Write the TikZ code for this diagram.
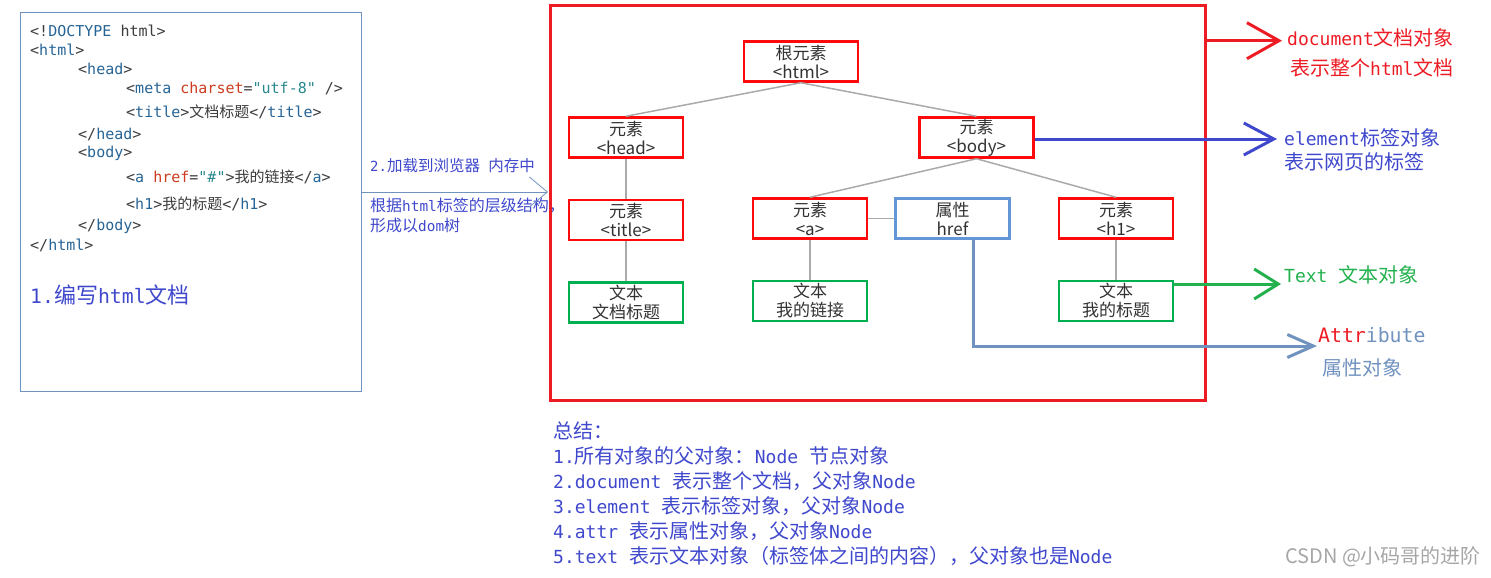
\documentclass[tikz,border=0pt]{standalone}
\usepackage{fontspec}
\setmainfont{Noto Sans CJK SC}
\setmonofont{DejaVu Sans Mono}
\newfontfamily\latinmono[Scale=0.9]{DejaVu Sans Mono}
\usetikzlibrary{positioning}
\usetikzlibrary{arrows.meta}
\definecolor{lred}{RGB}{237,28,36}
\definecolor{lblue}{RGB}{63,72,204}
\definecolor{lgreen}{RGB}{34,177,76}
\definecolor{lgrey}{RGB}{112,146,190}
\definecolor{nred}{RGB}{255,10,10}
\definecolor{ngreen}{RGB}{0,176,80}
\definecolor{nblue}{RGB}{100,150,215}
\definecolor{ntext}{RGB}{50,50,50}
\definecolor{linkgrey}{RGB}{170,170,170}
\definecolor{codetag}{RGB}{38,100,150}
\definecolor{codeattr}{RGB}{205,60,30}
\definecolor{codeval}{RGB}{40,135,140}
\definecolor{codepun}{RGB}{60,60,60}
\newcommand{\en}[1]{{\latinmono #1}}
\newcommand{\zh}[1]{{\rmfamily #1}}
\newcommand{\ctag}[1]{\textcolor{codetag}{#1}}
\newcommand{\cattr}[1]{\textcolor{codeattr}{#1}}
\newcommand{\cval}[1]{\textcolor{codeval}{#1}}

\begin{document}
\begin{tikzpicture}[x=1pt, y=-1pt,
    elem/.style={draw=nred, line width=2.5pt, minimum width=114pt, minimum height=40pt,
        inner sep=1pt, align=center, text=ntext, font=\fontsize{17}{19}\selectfont},
    textbox/.style={elem, draw=ngreen},
    attrbox/.style={elem, draw=nblue},
    link/.style={draw=linkgrey, line width=1.5pt},
    code/.style={anchor=west, inner sep=0pt, text=codepun, font=\ttfamily\fontsize{15}{18}\selectfont},
    note/.style={anchor=west, inner sep=0pt, font=\fontsize{20}{25}\selectfont},
    pointer/.style={line width=3pt}]
    \useasboundingbox (0,0) rectangle (1491,578);

    % Source file
    \node[draw=lgrey, line width=1pt, minimum width=341pt, minimum height=379pt,
        inner sep=0pt, anchor=north west] (htmlbox) at (20,12) {};
    \node[code] (c1) at (30,31) {<!\ctag{DOCTYPE} html>};
    \node[code] (c2) at (30,50) {<\ctag{html}>};
    \node[code] (c3) at (78,69) {<\ctag{head}>};
    \node[code] (c4) at (126,88) {<\ctag{meta} \cattr{charset}=\cval{"utf-8"} />};
    \node[code] (c5) at (126,112) {<\ctag{title}>\zh{文档标题}</\ctag{title}>};
    \node[code] (c6) at (78,134) {</\ctag{head}>};
    \node[code] (c7) at (78,153) {<\ctag{body}>};
    \node[code] (c8) at (126,177) {<\ctag{a} \cattr{href}=\cval{"\#"}>\zh{我的链接}</\ctag{a}>};
    \node[code] (c9) at (126,204) {<\ctag{h1}>\zh{我的标题}</\ctag{h1}>};
    \node[code] (c10) at (78,226) {</\ctag{body}>};
    \node[code] (c11) at (30,245) {</\ctag{html}>};
    \node[note, text=lblue, font=\fontsize{22}{26}\selectfont] (write) at (30,295) {\en{1.}编写\en{html}文档};

    % Loading step
    \node[note, text=lblue, font=\fontsize{15.5}{19}\selectfont] (load1) at (370,166) {\en{2.}加载到浏览器\en{\ }内存中};
    \node[note, text=lblue, font=\fontsize{16}{19}\selectfont] (load2) at (370,206) {根据\en{html}标签的层级结构，};
    \node[note, text=lblue, font=\fontsize{16}{19}\selectfont] (load3) at (370,225) {形成以\en{dom}树};

    % DOM tree
    \node[draw=lred, line width=3pt, minimum width=655pt, minimum height=395pt,
        inner sep=0pt, anchor=north west] (dombox) at (549,4) {};
    \node[elem] (html) at (801,61.5) {根元素\\<html>};
    \node[elem] (head) at (626,137.5) {元素\\<head>};
    \node[elem] (body) at (976.5,137.5) {元素\\<body>};
    \node[elem, below=40pt of head] (title) {元素\\<title>};
    \node[elem] (a) at (810,218.5) {元素\\<a>};
    \node[attrbox, right=26pt of a] (href) {属性\\href};
    \node[elem] (h1) at (1116,218.5) {元素\\<h1>};
    \node[textbox, below=40pt of title] (t1) {文本\\文档标题};
    \node[textbox, below=40pt of a] (t2) {文本\\我的链接};
    \node[textbox, below=40pt of h1] (t3) {文本\\我的标题};

    \draw[link] (html.south) -- (head.north);
    \draw[link] (html.south) -- (body.north);
    \draw[link] (body.south) -- (a.north);
    \draw[link] (body.south) -- (h1.north);
    \draw[link] (head) -- (title);
    \draw[link] (a) -- (href);
    \draw[link] (title) -- (t1);
    \draw[link] (a) -- (t2);
    \draw[link] (h1) -- (t3);

    % Pointers to the object kinds
    \coordinate (loadtip) at (548,192);
    \coordinate (doctip) at (1282,40.7);
    \coordinate (elemtip) at (1277,139);
    \coordinate (texttip) at (1281,284);
    \coordinate (attrtip) at (1317,346);
    \draw[lgrey, line width=0.8pt, -{Straight Barb[length=18pt, width=30pt]}] (htmlbox.east |- loadtip) -- (loadtip);
    \draw[pointer, lred, -{Straight Barb[length=32pt, width=36pt]}] (dombox.east |- doctip) -- (doctip);
    \draw[pointer, lblue, -{Straight Barb[length=30pt, width=32pt]}] (body.east |- elemtip) -- (elemtip);
    \draw[pointer, lgreen, -{Straight Barb[length=24pt, width=30pt]}] (t3.east |- texttip) -- (texttip);
    \draw[pointer, lgrey, -{Straight Barb[length=26pt, width=23pt]}] ([xshift=20.5pt]href.south) |- (attrtip);

    \node[note, text=lred] (doc1) at (1287,38) {\en{document}文档对象};
    \node[note, text=lred] (doc2) at (1290,68) {表示整个\en{html}文档};
    \node[note, text=lblue] (elem1) at (1284,138) {\en{element}标签对象};
    \node[note, text=lblue] (elem2) at (1284,162) {表示网页的标签};
    \node[note, text=lgreen] (txt) at (1284,275) {\en{Text }文本对象};
    \node[note, text=lgrey, font=\fontsize{22}{26}\selectfont] (attr1) at (1318,335) {\en{\textcolor{lred}{Attr}ibute}};
    \node[note, text=lgrey] (attr2) at (1322,368) {属性对象};

    % Summary
    \node[note, anchor=north west, align=left, text=lblue] (summary) at (553,421) {总结：\\
        \en{1.}所有对象的父对象：\en{Node }节点对象\\
        \en{2.document }表示整个文档，父对象\en{Node}\\
        \en{3.element }表示标签对象，父对象\en{Node}\\
        \en{4.attr }表示属性对象，父对象\en{Node}\\
        \en{5.text }表示文本对象（标签体之间的内容），父对象也是\en{Node}};
    \node[note, text=black!35] (mark) at (1285,557) {CSDN @小码哥的进阶};
\end{tikzpicture}
\end{document}
